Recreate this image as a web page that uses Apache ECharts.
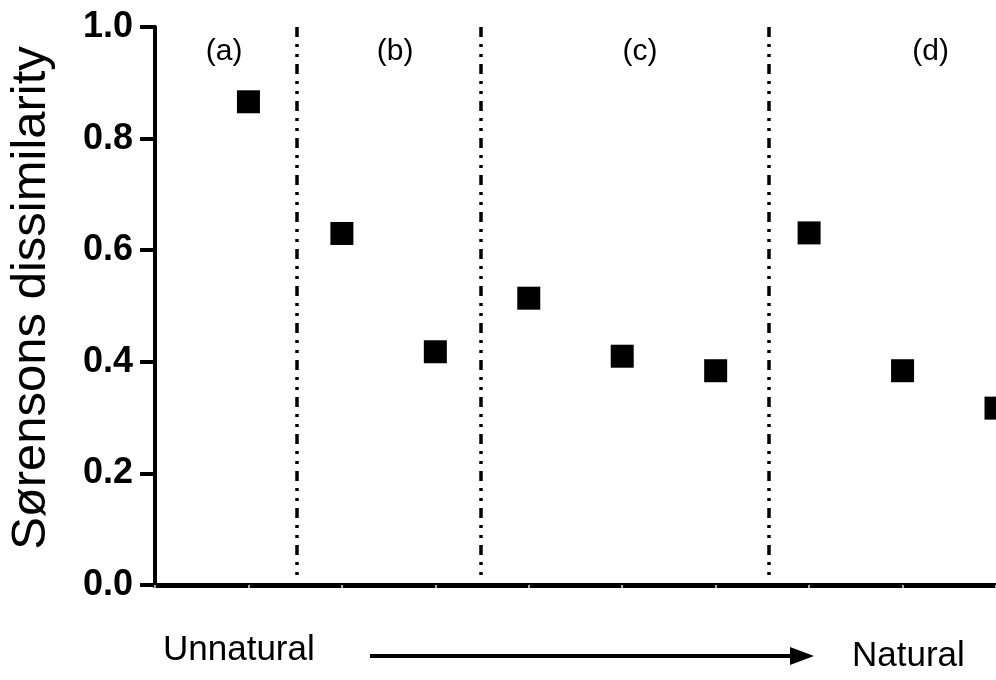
<!DOCTYPE html>
<html>
<head>
<meta charset="utf-8">
<script src="https://cdn.jsdelivr.net/npm/echarts@6/dist/echarts.min.js"></script>
<style>
  html, body { margin: 0; padding: 0; background: #fff; }
  #chart { width: 996px; height: 680px; }
</style>
</head>
<body>
<div id="chart"></div>
<script>
// Site positions along the unnatural → natural gradient
const sitePositions = [1, 2, 3, 4, 5, 6, 7, 8, 9];
// Sørensen dissimilarity per site
const dissimilarity = [0.866, 0.630, 0.418, 0.514, 0.410, 0.384, 0.631, 0.384, 0.317];
// Group separators (x positions) and group labels
const dividerPositions = [1.52, 3.49, 6.57];
const panelNames = ['(a)', '(b)', '(c)', '(d)'];
const panelPositions = [0.74, 2.57, 5.19, 8.3];
const panelLabelY = 0.955;
// Y-axis ticks
const yTicks = [0.0, 0.2, 0.4, 0.6, 0.8, 1.0];

const FONT = '"Liberation Sans", Arial, Helvetica, sans-serif';

const chart = echarts.init(document.getElementById('chart'), null, { renderer: 'canvas' });

const points = sitePositions.map((x, i) => [x, dissimilarity[i]]);
const panelData = panelPositions.map((x, i) => ({ value: [x, panelLabelY], name: panelNames[i] }));

chart.setOption({
  animation: false,
  backgroundColor: '#ffffff',
  grid: { left: 155, top: 27, bottom: 95, right: -1, containLabel: false },
  xAxis: {
    type: 'value',
    min: 0,
    max: 9,
    interval: 1,
    axisLine: { show: true, lineStyle: { color: '#000', width: 5 } },
    axisTick: { show: true, inside: false, length: 3, lineStyle: { color: '#aaa', width: 2 } },
    axisLabel: { show: false },
    splitLine: { show: false }
  },
  yAxis: {
    type: 'value',
    min: yTicks[0],
    max: yTicks[yTicks.length - 1],
    interval: 0.2,
    axisLine: { show: true, lineStyle: { color: '#000', width: 4 } },
    axisTick: { show: true, length: 15, lineStyle: { color: '#000', width: 4 } },
    axisLabel: {
      margin: 22,
      fontFamily: FONT,
      fontWeight: 'bold',
      fontSize: 36,
      color: '#000',
      formatter: v => v.toFixed(1)
    },
    splitLine: { show: false }
  },
  series: [
    {
      type: 'scatter',
      data: points,
      symbol: 'rect',
      symbolSize: 23,
      clip: false,
      itemStyle: { color: '#000', opacity: 1 },
      markLine: {
        silent: true,
        symbol: ['none', 'none'],
        label: { show: false },
        lineStyle: { color: '#000', width: 3.5, opacity: 1, type: [10, 7, 3, 7, 3, 7] },
        data: dividerPositions.map(x => [
          { coord: [x, 1.0] },
          { coord: [x, 0.015] }
        ])
      }
    },
    {
      type: 'scatter',
      data: panelData,
      symbol: 'circle',
      symbolSize: 1,
      silent: true,
      itemStyle: { color: 'rgba(0,0,0,0)' },
      label: {
        show: true,
        position: 'inside',
        formatter: p => p.name,
        fontFamily: FONT,
        fontSize: 30,
        color: '#000',
        opacity: 1,
        textBorderWidth: 0
      }
    }
  ],
  graphic: [
    {
      type: 'text',
      x: 31,
      y: 298,
      rotation: Math.PI / 2,
      style: {
        text: 'Sørensons dissimilarity',
        fontFamily: FONT,
        fontSize: 49,
        fill: '#000',
        align: 'center',
        verticalAlign: 'middle'
      }
    },
    {
      type: 'text',
      x: 163,
      y: 650,
      style: {
        text: 'Unnatural',
        fontFamily: FONT,
        fontSize: 35,
        fill: '#000',
        align: 'left',
        verticalAlign: 'middle'
      }
    },
    {
      type: 'text',
      x: 852,
      y: 656,
      style: {
        text: 'Natural',
        fontFamily: FONT,
        fontSize: 35,
        fill: '#000',
        align: 'left',
        verticalAlign: 'middle'
      }
    },
    {
      type: 'line',
      shape: { x1: 370, y1: 656, x2: 795, y2: 656 },
      style: { stroke: '#000', lineWidth: 4 }
    },
    {
      type: 'polygon',
      shape: { points: [[790, 647], [814, 656], [790, 665]] },
      style: { fill: '#000' }
    }
  ]
});
</script>
</body>
</html>
